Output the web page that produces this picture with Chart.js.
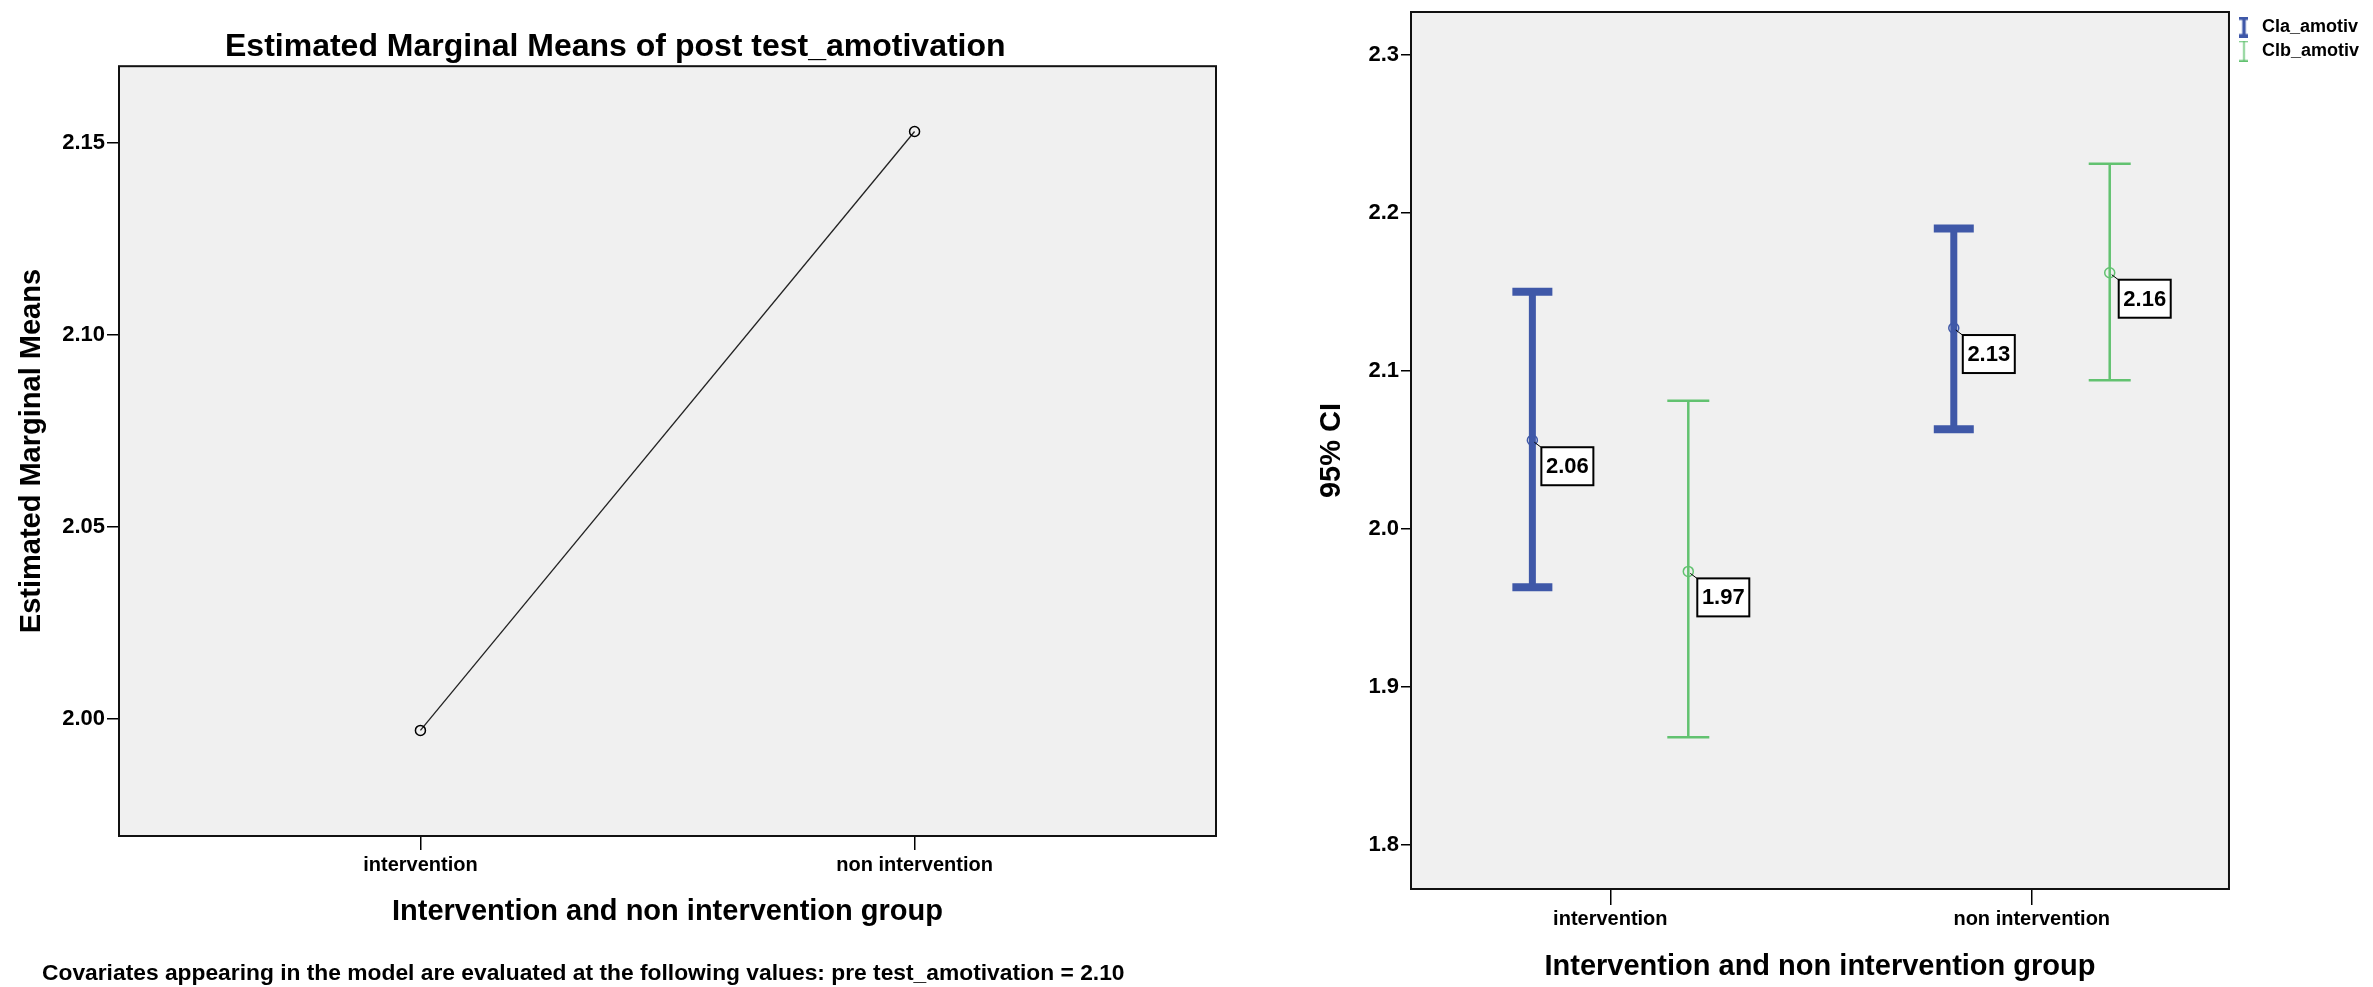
<!DOCTYPE html>
<html>
<head>
<meta charset="utf-8">
<script src="https://cdn.jsdelivr.net/npm/chart.js@4.4.1/dist/chart.umd.min.js"></script>
<style>
	html, body { margin: 0; padding: 0; background: #fff; width: 2373px; height: 987px; overflow: hidden; position: relative; font-family: "Liberation Sans", Arial, sans-serif; }
	#leftWrap { position: absolute; left: -28px; top: 0; width: 1290px; height: 987px; }
	#rightWrap { position: absolute; left: 1290px; top: 0; width: 1083px; height: 987px; }
	#note { position: absolute; left: 42px; top: 960px; font-weight: bold; font-size: 22.8px; line-height: 25px; white-space: nowrap; color: #000; }
</style>
</head>
<body>
<div id="leftWrap"><canvas id="left"></canvas></div>
<div id="rightWrap"><canvas id="right"></canvas></div>
<div id="note">Covariates appearing in the model are evaluated at the following values: pre test_amotivation = 2.10</div>
<script>
// Groups on the x axis (both panels)
var groups = ['intervention', 'non intervention'];

// Left panel: estimated marginal means of post test_amotivation
var emMeans = [1.997, 2.153];
var emTicks = [2.00, 2.05, 2.10, 2.15];

// Right panel: means with 95% CI
var seriesNames = ['Cla_amotiv', 'Clb_amotiv'];
var claMean = [2.056, 2.127];
var claLow = [1.963, 2.063];
var claHigh = [2.150, 2.190];
var clbMean = [1.973, 2.162];
var clbLow = [1.868, 2.094];
var clbHigh = [2.081, 2.231];
var ciTicks = [1.8, 1.9, 2.0, 2.1, 2.2, 2.3];

var FONT = '"Liberation Sans", Arial, sans-serif';
var BLUE = '#3f58a8';
var GREEN = '#62c270';

Chart.defaults.font.family = FONT;
Chart.defaults.font.weight = 'bold';
Chart.defaults.color = '#000';

// grey plot background and black frame, SPSS style
var plotFrame = {
	id: 'plotFrame',
	beforeDraw: function(chart) {
		var a = chart.chartArea, ctx = chart.ctx;
		ctx.save();
		ctx.fillStyle = '#f0f0f0';
		ctx.fillRect(a.left, a.top, a.right - a.left, a.bottom - a.top);
		ctx.restore();
	},
	afterDraw: function(chart) {
		var a = chart.chartArea, ctx = chart.ctx;
		ctx.save();
		ctx.strokeStyle = '#111';
		ctx.lineWidth = 2;
		ctx.strokeRect(a.left, a.top, a.right - a.left, a.bottom - a.top);
		ctx.restore();
	}
};

// boxed value labels next to the means
var meanLabels = {
	id: 'meanLabels',
	afterDatasetsDraw: function(chart) {
		var ctx = chart.ctx;
		chart.data.datasets.forEach(function(ds, di) {
			if (!ds.valueBoxes) return;
			chart.getDatasetMeta(di).data.forEach(function(pt, i) {
				var text = ds.data[i].y.toFixed(2);
				var bx = pt.x + 9, by = pt.y + 7, bw = 52, bh = 38;
				ctx.save();
				ctx.strokeStyle = '#000';
				ctx.lineWidth = 1;
				ctx.beginPath();
				ctx.moveTo(pt.x + 2, pt.y + 2);
				ctx.lineTo(bx + 1, by + 1);
				ctx.stroke();
				ctx.fillStyle = '#fff';
				ctx.fillRect(bx, by, bw, bh);
				ctx.lineWidth = 2;
				ctx.strokeRect(bx, by, bw, bh);
				ctx.fillStyle = '#000';
				ctx.font = 'bold 22px ' + FONT;
				ctx.textAlign = 'center';
				ctx.textBaseline = 'middle';
				ctx.fillText(text, bx + bw / 2, by + bh / 2 + 1);
				ctx.restore();
			});
		});
	}
};

function fixedTicks(list) {
	return function(scale) {
		scale.ticks = list.map(function(v) { return { value: v }; });
	};
}

// fix the axis box size and drop the label overhang padding
function fitY(w) {
	return function(s) { s.width = w; s.paddingTop = 0; s.paddingBottom = 0; };
}
function fitX(h) {
	return function(s) { s.height = h; s.paddingLeft = 0; s.paddingRight = 0; };
}

function tickGrid(len) {
	return { drawOnChartArea: false, drawTicks: true, tickLength: len, color: '#000', lineWidth: 1.5 };
}

// ---------- left panel ----------
new Chart(document.getElementById('left'), {
	type: 'scatter',
	data: {
		datasets: [{
			data: emMeans.map(function(v, i) { return { x: i, y: v }; }),
			showLine: true,
			borderColor: '#222',
			borderWidth: 1.3,
			pointRadius: 5,
			pointBorderWidth: 1.5,
			pointBorderColor: '#000',
			pointBackgroundColor: 'rgba(0,0,0,0)'
		}]
	},
	options: {
		responsive: true,
		maintainAspectRatio: false,
		animation: false,
		layout: { autoPadding: false, padding: { left: 42.6, top: 0, right: 46, bottom: 57.6 } },
		plugins: {
			legend: { display: false },
			tooltip: { enabled: false },
			title: {
				display: true,
				text: 'Estimated Marginal Means of post test_amotivation',
				font: { size: 32, weight: 'bold' },
				color: '#000',
				padding: { top: 27.8, bottom: 0 }
			}
		},
		scales: {
			x: {
				type: 'linear',
				min: -0.61,
				max: 1.61,
				afterBuildTicks: fixedTicks([0, 1]),
				afterFit: fitX(93.4),
				border: { display: false },
				grid: tickGrid(14),
				ticks: {
					padding: 3,
					maxRotation: 0,
					autoSkip: false,
					font: { size: 20, weight: 'bold' },
					callback: function(v) { return groups[v]; }
				},
				title: { display: true, text: 'Intervention and non intervention group', font: { size: 29, weight: 'bold' }, padding: 0 }
			},
			y: {
				type: 'linear',
				min: 1.9695,
				max: 2.170,
				afterBuildTicks: fixedTicks(emTicks),
				afterFit: fitY(104.4),
				border: { display: false },
				grid: tickGrid(12),
				ticks: {
					padding: 2,
					font: { size: 22, weight: 'bold' },
					callback: function(v) { return v.toFixed(2); }
				},
				title: { display: true, text: 'Estimated Marginal Means', font: { size: 29, weight: 'bold' }, padding: 0 }
			}
		}
	},
	plugins: [plotFrame]
});

// ---------- right panel ----------
var OFF = 0.185;

function barIcon(color, stem, cap) {
	var c = document.createElement('canvas');
	c.width = 9;
	c.height = 21;
	var g = c.getContext('2d');
	g.fillStyle = color;
	g.fillRect(0, 0, 9, cap);
	g.fillRect(0, 21 - cap, 9, cap);
	g.fillRect((9 - stem) / 2, 0, stem, 21);
	return c;
}
var iconA = barIcon(BLUE, 3.5, 3.5);
var iconB = barIcon(GREEN, 1.5, 1.5);

function meanPoints(means, dx) {
	return means.map(function(v, i) { return { x: i + dx, y: v }; });
}
function whisker(low, high, dx) {
	var out = [];
	low.forEach(function(v, i) {
		out.push({ x: i + dx, y: v });
		out.push({ x: i + dx, y: high[i] });
		out.push({ x: i + dx, y: null });
	});
	return out;
}
function caps(low, high, dx) {
	var out = [];
	low.forEach(function(v, i) {
		out.push({ x: i + dx, y: v });
		out.push({ x: i + dx, y: high[i] });
	});
	return out;
}

new Chart(document.getElementById('right'), {
	type: 'scatter',
	data: {
		datasets: [
			{ data: meanPoints(claMean, -OFF), valueBoxes: true, pointRadius: 5, pointBorderWidth: 1.5, pointBorderColor: BLUE, pointBackgroundColor: 'rgba(0,0,0,0)' },
			{ data: meanPoints(clbMean, OFF), valueBoxes: true, pointRadius: 5, pointBorderWidth: 1.5, pointBorderColor: GREEN, pointBackgroundColor: 'rgba(0,0,0,0)' },
			{ data: caps(claLow, claHigh, -OFF), pointStyle: 'line', pointRadius: 20, pointBorderWidth: 8, pointBorderColor: BLUE },
			{ data: caps(clbLow, clbHigh, OFF), pointStyle: 'line', pointRadius: 21, pointBorderWidth: 2.5, pointBorderColor: GREEN },
			{ data: whisker(claLow, claHigh, -OFF), showLine: true, spanGaps: false, borderColor: BLUE, borderWidth: 7, pointRadius: 0 },
			{ data: whisker(clbLow, clbHigh, OFF), showLine: true, spanGaps: false, borderColor: GREEN, borderWidth: 2.5, pointRadius: 0 }
		]
	},
	options: {
		responsive: true,
		maintainAspectRatio: false,
		animation: false,
		layout: { autoPadding: false, padding: { left: 24.6, top: 12, right: 4, bottom: 2.6 } },
		plugins: {
			tooltip: { enabled: false },
			legend: {
				position: 'right',
				align: 'start',
				labels: {
					usePointStyle: true,
					pointStyleWidth: 18,
					padding: 6,
					color: '#000',
					font: { size: 18, weight: 'bold' },
					generateLabels: function() {
						return [
							{ text: seriesNames[0], pointStyle: iconA, fillStyle: BLUE, strokeStyle: BLUE, lineWidth: 0, hidden: false, datasetIndex: 0 },
							{ text: seriesNames[1], pointStyle: iconB, fillStyle: GREEN, strokeStyle: GREEN, lineWidth: 0, hidden: false, datasetIndex: 1 }
						];
					}
				}
			}
		},
		scales: {
			x: {
				type: 'linear',
				min: -0.473,
				max: 1.468,
				afterBuildTicks: fixedTicks([0, 1]),
				afterFit: fitX(95.4),
				border: { display: false },
				grid: tickGrid(16),
				ticks: {
					padding: 2,
					maxRotation: 0,
					autoSkip: false,
					font: { size: 20, weight: 'bold' },
					callback: function(v) { return groups[v]; }
				},
				title: { display: true, text: 'Intervention and non intervention group', font: { size: 29, weight: 'bold' }, padding: 0 }
			},
			y: {
				type: 'linear',
				min: 1.772,
				max: 2.327,
				afterBuildTicks: fixedTicks(ciTicks),
				afterFit: fitY(96.4),
				border: { display: false },
				grid: tickGrid(10),
				ticks: {
					padding: 2,
					font: { size: 22, weight: 'bold' },
					callback: function(v) { return v.toFixed(1); }
				},
				title: { display: true, text: '95% CI', font: { size: 29, weight: 'bold' }, padding: 0 }
			}
		}
	},
	plugins: [plotFrame, meanLabels]
});
</script>
</body>
</html>
